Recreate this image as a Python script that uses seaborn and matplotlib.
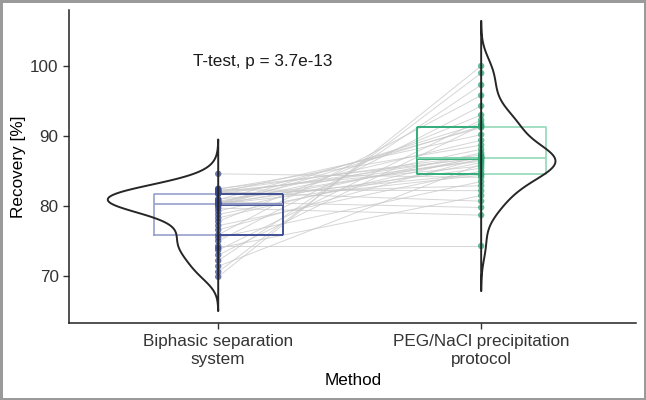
import numpy as np
import pandas as pd
import seaborn as sns
import matplotlib.pyplot as plt

# values (paired samples)
methods = ["Biphasic separation\nsystem", "PEG/NaCl precipitation\nprotocol"]
biphasic = [84.6, 82.5, 82.4, 82.3, 82.2, 82.1, 82.0, 81.9, 81.9, 81.8,
            81.7, 81.0, 80.9, 80.7, 80.6, 80.5, 80.4, 80.4, 80.3, 80.3,
            80.2, 80.0, 79.7, 79.3, 78.8, 78.3, 77.8, 77.2, 76.6, 75.9,
            75.5, 75.0, 74.3, 74.0, 73.7, 73.0, 72.2, 71.4, 70.6, 69.9]
peg_nacl = [84.1, 86.9, 88.7, 82.2, 87.3, 85.7, 80.7, 90.2, 86.4, 82.9,
            87.0, 84.6, 91.2, 86.6, 79.8, 89.4, 88.1, 85.4, 91.8, 84.4,
            86.9, 91.4, 78.7, 87.6, 86.2, 87.1, 93.0, 85.0, 86.8, 95.8,
            83.5, 94.3, 74.3, 81.5, 92.3, 91.5, 97.3, 86.0, 99.0, 100.0]
p_label = "T-test, p = 3.7e-13"

dark = ["#3B4A91", "#2BAA76"]
light = ["#97A0CC", "#93D9B8"]

n = len(biphasic)
df = pd.DataFrame({
    "pair": list(range(n)) * 2,
    "Method": [methods[0]] * n + [methods[1]] * n,
    "Recovery": biphasic + peg_nacl,
})
df["pos"] = df["Method"].map({m: i for i, m in enumerate(methods)})


def kde(vals, cut=3):
    # gaussian kde with R's nrd0 bandwidth
    v = np.asarray(vals)
    iqr = np.subtract(*np.percentile(v, [75, 25]))
    bw = 0.9 * min(v.std(ddof=1), iqr / 1.34) * len(v) ** -0.2
    grid = np.linspace(v.min() - cut * bw, v.max() + cut * bw, 400)
    dens = np.exp(-0.5 * ((grid[:, None] - v[None, :]) / bw) ** 2).sum(1)
    return grid, dens / (len(v) * bw * np.sqrt(2 * np.pi))


sns.set_style("ticks")
plt.rcParams["font.family"] = ["Liberation Sans", "DejaVu Sans"]
fs = 12.3

fig = plt.figure(figsize=(6.46, 4.0), dpi=100)
ax = fig.add_axes([0.107, 0.1925, 0.878, 0.7825])

# paired lines
sns.lineplot(data=df, x="pos", y="Recovery", units="pair", estimator=None,
             color="#c8c8c8", linewidth=0.7, alpha=0.75, legend=False, ax=ax,
             zorder=1)

# boxes (light full box)
sns.boxplot(data=df, x="Method", y="Recovery", hue="Method", order=methods,
            hue_order=methods, palette=light, fill=False, whis=0, dodge=False,
            showcaps=False, showfliers=False, width=0.49, linewidth=1.2,
            legend=False, ax=ax, zorder=2)

# darker inner half of each box
hw = 0.245
for i, vals in enumerate([biphasic, peg_nacl]):
    q1, med, q3 = np.percentile(vals, [25, 50, 75])
    x0, x1 = (i, i + hw) if i == 0 else (i - hw, i)
    edge = x1 if i == 0 else x0
    ax.hlines([q1, q3], x0, x1, color=dark[i], linewidth=1.3, zorder=2)
    ax.hlines([med], x0, x1, color=dark[i], linewidth=2.0, zorder=2)
    ax.vlines(edge, q1, q3, color=dark[i], linewidth=1.3, zorder=2)

# points
sns.stripplot(data=df, x="Method", y="Recovery", hue="Method", order=methods,
              hue_order=methods, palette=dark, jitter=False, size=4.6,
              alpha=0.75, linewidth=0, legend=False, ax=ax, zorder=4)

# half violins: left half for first method, right half for second
curves = [kde(biphasic), kde(peg_nacl)]
dmax = max(d.max() for _, d in curves)
vw = 0.42
for i, (grid, dens) in enumerate(curves):
    side = -1 if i == 0 else 1
    ax.fill_betweenx(grid, i, i + side * vw * dens / dmax, facecolor="none",
                     edgecolor="#262626", linewidth=1.4, zorder=5)

ax.text(0.17, 100.6, p_label, ha="center", va="center", fontsize=fs,
        color="#1a1a1a")

ax.set_xlim(-0.567, 1.59)
ax.set_ylim(63.3, 108)
ax.set_yticks([70, 80, 90, 100])
ax.set_xticks([0, 1])
ax.set_xticklabels(methods, linespacing=1.2)
ax.set_xlabel("Method", fontsize=fs, color="black", labelpad=5)
ax.set_ylabel("Recovery [%]", fontsize=fs, color="black", labelpad=3)
ax.tick_params(axis="both", labelsize=fs, labelcolor="#333333",
               color="#333333", length=4, width=1)
ax.tick_params(axis="x", pad=4)
for s in ["left", "bottom"]:
    ax.spines[s].set_linewidth(1.1)
    ax.spines[s].set_color("#222222")
sns.despine(ax=ax)

fig.patch.set_edgecolor("#9a9a9a")
fig.patch.set_linewidth(2.5)
plt.savefig("out.png", dpi=100, edgecolor=fig.get_edgecolor())
